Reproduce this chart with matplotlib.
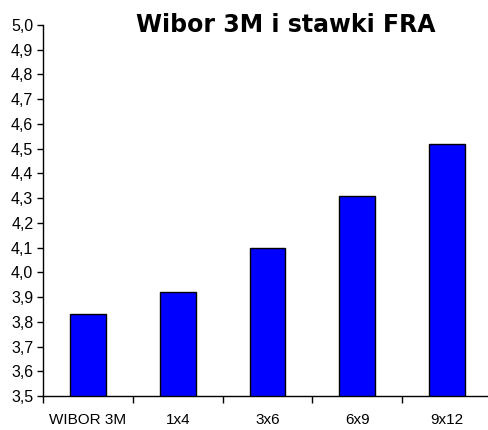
import numpy as np
import matplotlib
matplotlib.use("Agg")
import matplotlib.pyplot as plt
from matplotlib.ticker import FixedLocator, FuncFormatter

# dane
categories = ["WIBOR 3M", "1x4", "3x6", "6x9", "9x12"]
values = [3.83, 3.92, 4.10, 4.31, 4.52]

plt.rcParams["font.family"] = ["Liberation Sans", "DejaVu Sans"]

fig = plt.figure(figsize=(4.88, 4.30), dpi=100)
ax = fig.add_axes([43 / 488, 1 - 396 / 430, 449 / 488, 371 / 430])

x = np.arange(len(categories))
ax.bar(x, values, width=0.4, bottom=0, color="#0000FF", edgecolor="black", linewidth=1, zorder=2)

ax.set_xlim(-0.5, len(categories) - 0.5)
ax.set_ylim(3.5, 5.0)
ax.set_yticks(np.arange(3.5, 5.01, 0.1))
ax.yaxis.set_major_formatter(FuncFormatter(lambda v, p: f"{v:.1f}".replace(".", ",")))

ax.set_xticks(x)
ax.set_xticklabels(categories)
ax.xaxis.set_minor_locator(FixedLocator(np.arange(-0.5, len(categories), 1.0)))
ax.tick_params(axis="x", which="major", length=0, pad=12, labelsize=11)
ax.tick_params(axis="x", which="minor", length=5, direction="out", width=1)
ax.tick_params(axis="y", length=4, direction="out", width=1, pad=3, labelsize=11.5)

for s in ["top", "right"]:
    ax.spines[s].set_visible(False)
ax.spines["left"].set_linewidth(1)
ax.spines["bottom"].set_linewidth(1)

fig.text(286 / 488, 1 - 25 / 430, "Wibor 3M i stawki FRA", ha="center", va="center",
         fontsize=17, fontweight="bold", family="DejaVu Sans")

fig.savefig("out.png", dpi=100)
